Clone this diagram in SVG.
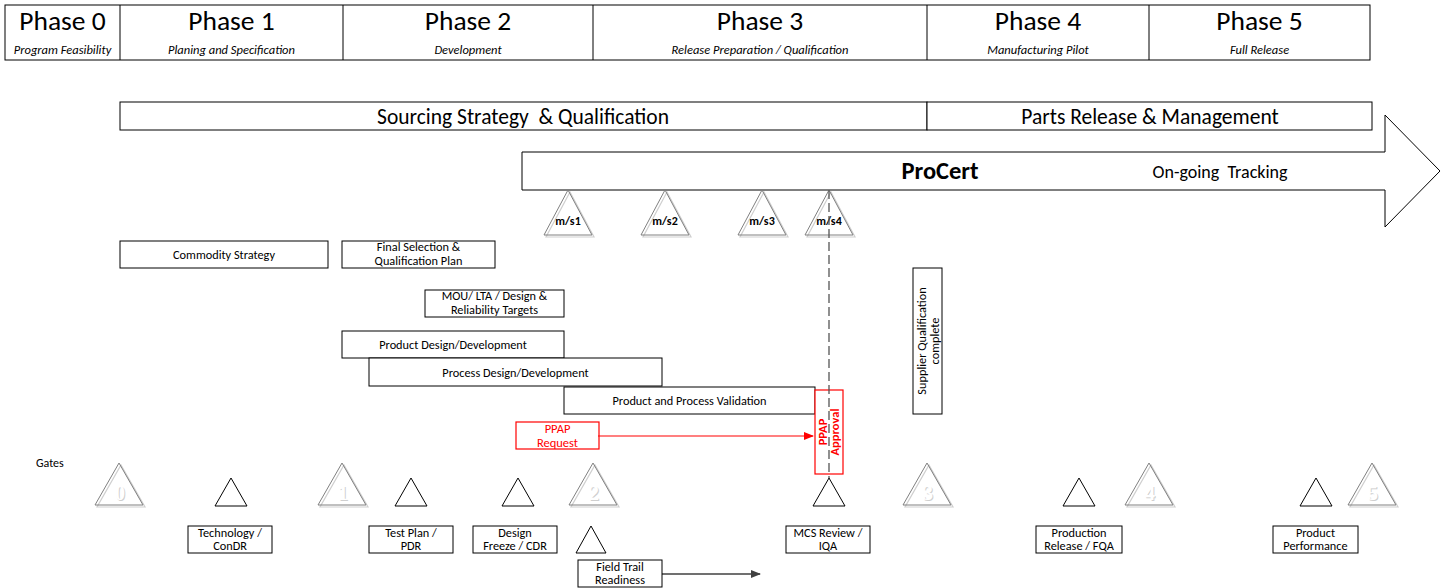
<svg xmlns="http://www.w3.org/2000/svg" width="1444" height="588" viewBox="0 0 1444 588">
<style>
text{font-family:Carlito,Lato,"Liberation Sans",sans-serif;fill:#000}
.box{fill:#fff;stroke:#000;stroke-width:1}
.ph{font-size:27.5px;text-anchor:middle}
.sub{font-size:12.5px;font-style:italic;text-anchor:middle}
.t{font-size:12.3px;text-anchor:middle}
.big{font-size:21.5px;text-anchor:middle}
.gsh{fill:none;stroke:#cfcfcf;stroke-width:1.2}
.gt{fill:none;stroke:#808080;stroke-width:1}
.gn{font-family:"Liberation Serif",serif;font-weight:bold;font-size:20px;text-anchor:middle;fill:#fff}
.gns{font-family:"Liberation Serif",serif;font-weight:bold;font-size:20px;text-anchor:middle;fill:#cfcfcf}
.st{fill:#fff;stroke:#000;stroke-width:1}
.ms{font-size:12px;font-weight:bold;text-anchor:middle}
.red{fill:#fff;stroke:#f00;stroke-width:1.2}
.rt{fill:#f00;font-size:12.5px;text-anchor:middle}
</style>
<defs>
<marker id="ar" markerWidth="10" markerHeight="8" refX="9" refY="4" orient="auto" markerUnits="userSpaceOnUse"><path d="M0,0 L10,4 L0,8 z" fill="#f00"/></marker>
<marker id="ag" markerWidth="10" markerHeight="8" refX="9" refY="4" orient="auto" markerUnits="userSpaceOnUse"><path d="M0,0 L10,4 L0,8 z" fill="#404040"/></marker>
</defs>

<g id="phases">
<rect class="box" x="5" y="5" width="1365" height="55"/>
<line x1="120" y1="5" x2="120" y2="60" stroke="#000"/>
<line x1="343" y1="5" x2="343" y2="60" stroke="#000"/>
<line x1="593" y1="5" x2="593" y2="60" stroke="#000"/>
<line x1="927" y1="5" x2="927" y2="60" stroke="#000"/>
<line x1="1149" y1="5" x2="1149" y2="60" stroke="#000"/>
<text class="ph" x="62.5" y="30">Phase 0</text>
<text class="sub" x="62.5" y="53.5">Program Feasibility</text>
<text class="ph" x="231.5" y="30">Phase 1</text>
<text class="sub" x="231.5" y="53.5">Planing and Specification</text>
<text class="ph" x="468" y="30">Phase 2</text>
<text class="sub" x="468" y="53.5">Development</text>
<text class="ph" x="760" y="30">Phase 3</text>
<text class="sub" x="760" y="53.5">Release Preparation / Qualification</text>
<text class="ph" x="1038" y="30">Phase 4</text>
<text class="sub" x="1038" y="53.5">Manufacturing Pilot</text>
<text class="ph" x="1259.5" y="30">Phase 5</text>
<text class="sub" x="1259.5" y="53.5">Full Release</text>
</g>

<g id="sourcing">
<rect class="box" x="120" y="102" width="807" height="28"/>
<text class="big" x="523" y="123.5" xml:space="preserve">Sourcing Strategy  &amp; Qualification</text>
</g>
<g id="parts-release">
<rect class="box" x="927" y="102" width="445" height="28"/>
<text class="big" x="1150" y="123.5">Parts Release &amp; Management</text>
</g>

<g id="procert">
<polygon class="box" points="522,152 1385,152 1385,115 1440,171 1385,227 1385,190 522,190"/>
<text x="940" y="179" font-size="24.5" font-weight="bold" text-anchor="middle">ProCert</text>
<text x="1220" y="178" font-size="18" text-anchor="middle" xml:space="preserve">On-going  Tracking</text>
</g>

<g id="ms1"><polygon class="gsh" points="570,192 594,237 546,237"/><polygon class="gt" points="568,190 592,235 544,235" stroke="#555"/><text class="ms" x="568" y="225">m/s1</text></g>
<g id="ms2"><polygon class="gsh" points="667,192 691,237 643,237"/><polygon class="gt" points="665,190 689,235 641,235" stroke="#555"/><text class="ms" x="665" y="225">m/s2</text></g>
<g id="ms3"><polygon class="gsh" points="764,192 788,237 740,237"/><polygon class="gt" points="762,190 786,235 738,235" stroke="#555"/><text class="ms" x="762" y="225">m/s3</text></g>
<g id="ms4"><polygon class="gsh" points="831,192 855,237 807,237"/><polygon class="gt" points="829,190 853,235 805,235" stroke="#555"/><text class="ms" x="829" y="225">m/s4</text></g>

<g id="commodity-strategy"><rect class="box" x="120" y="241" width="208" height="27"/><text class="t" x="224" y="259">Commodity Strategy</text></g>
<g id="final-selection"><rect class="box" x="342" y="241" width="153" height="27"/><text class="t" x="418.5" y="251">Final Selection &amp;</text><text class="t" x="418.5" y="265">Qualification Plan</text></g>
<g id="mou"><rect class="box" x="425" y="290" width="139" height="27"/><text class="t" x="494.5" y="300">MOU/ LTA / Design &amp;</text><text class="t" x="494.5" y="314">Reliability Targets</text></g>
<g id="product-design"><rect class="box" x="342" y="331" width="222" height="27"/><text class="t" x="453" y="349">Product Design/Development</text></g>
<g id="process-design"><rect class="box" x="369" y="358" width="293" height="28"/><text class="t" x="515.5" y="376.5">Process Design/Development</text></g>
<g id="validation"><rect class="box" x="564" y="387" width="251" height="27"/><text class="t" x="689.5" y="405">Product and Process Validation</text></g>
<g id="supplier-qualification"><rect class="box" x="913" y="268" width="29" height="146"/>
<text class="t" transform="translate(925.5,341) rotate(-90)">Supplier Qualification</text>
<text class="t" transform="translate(939,341) rotate(-90)">complete</text></g>
<g id="ppap-request"><rect class="red" x="516" y="422" width="83" height="27"/><text class="rt" x="557.5" y="432.5">PPAP</text><text class="rt" x="557.5" y="447">Request</text></g>
<g id="ppap-approval"><rect class="red" x="815" y="390" width="28" height="84"/>
<text class="rt" font-weight="bold" font-size="12" transform="translate(826.5,432) rotate(-90)">PPAP</text>
<text class="rt" font-weight="bold" font-size="12" transform="translate(839,432) rotate(-90)">Approval</text></g>

<g id="connectors">
<line x1="829" y1="190" x2="829" y2="478" stroke="#555" stroke-width="1.3" stroke-dasharray="9,4"/>
<line x1="598" y1="436" x2="813" y2="436" stroke="#f00" stroke-width="1.2" marker-end="url(#ar)"/>
<line x1="662" y1="574" x2="760" y2="574" stroke="#404040" stroke-width="1.5" marker-end="url(#ag)"/>
</g>

<g id="gates-label"><text x="36" y="467" font-size="12">Gates</text></g>

<g id="gate0"><polygon class="gsh" points="121,465 145,507 97,507"/><polygon class="gt" points="119,463 143,505 95,505"/><text class="gns" x="121" y="501">0</text><text class="gn" x="120" y="500">0</text></g>
<g id="gate1"><polygon class="gsh" points="344,465 368,507 320,507"/><polygon class="gt" points="342,463 366,505 318,505"/><text class="gns" x="344" y="501">1</text><text class="gn" x="343" y="500">1</text></g>
<g id="gate2"><polygon class="gsh" points="595,465 619,507 571,507"/><polygon class="gt" points="593,463 617,505 569,505"/><text class="gns" x="595" y="501">2</text><text class="gn" x="594" y="500">2</text></g>
<g id="gate3"><polygon class="gsh" points="929,465 953,507 905,507"/><polygon class="gt" points="927,463 951,505 903,505"/><text class="gns" x="929" y="501">3</text><text class="gn" x="928" y="500">3</text></g>
<g id="gate4"><polygon class="gsh" points="1151,465 1175,507 1127,507"/><polygon class="gt" points="1149,463 1173,505 1125,505"/><text class="gns" x="1151" y="501">4</text><text class="gn" x="1150" y="500">4</text></g>
<g id="gate5"><polygon class="gsh" points="1374,465 1398,507 1350,507"/><polygon class="gt" points="1372,463 1396,505 1348,505"/><text class="gns" x="1374" y="501">5</text><text class="gn" x="1373" y="500">5</text></g>

<g id="technology"><polygon class="st" points="231,478 247,506 215,506"/><rect class="box" x="188" y="526" width="84" height="27"/><text class="t" x="230" y="536.5">Technology /</text><text class="t" x="230" y="550">ConDR</text></g>
<g id="test-plan"><polygon class="st" points="411,478 427,506 395,506"/><rect class="box" x="369" y="526" width="84" height="27"/><text class="t" x="411" y="536.5">Test Plan /</text><text class="t" x="411" y="550">PDR</text></g>
<g id="design-freeze"><polygon class="st" points="518,478 534,506 502,506"/><rect class="box" x="473" y="526" width="84" height="27"/><text class="t" x="515" y="536.5">Design</text><text class="t" x="515" y="550">Freeze / CDR</text></g>
<g id="field-trail"><polygon class="st" points="591,526 606,553 576,553"/><rect class="box" x="578" y="560" width="84" height="27"/><text class="t" x="620" y="570.5">Field Trail</text><text class="t" x="620" y="584">Readiness</text></g>
<g id="mcs-review"><polygon class="st" points="829,478 845,506 813,506"/><rect class="box" x="786" y="526" width="84" height="27"/><text class="t" x="828" y="536.5">MCS Review /</text><text class="t" x="828" y="550">IQA</text></g>
<g id="production-release"><polygon class="st" points="1079,478 1095,506 1063,506"/><rect class="box" x="1036" y="526" width="86" height="27"/><text class="t" x="1079" y="536.5">Production</text><text class="t" x="1079" y="550">Release / FQA</text></g>
<g id="product-performance"><polygon class="st" points="1316,478 1332,506 1300,506"/><rect class="box" x="1273" y="526" width="85" height="27"/><text class="t" x="1315.5" y="536.5">Product</text><text class="t" x="1315.5" y="550">Performance</text></g>
</svg>
